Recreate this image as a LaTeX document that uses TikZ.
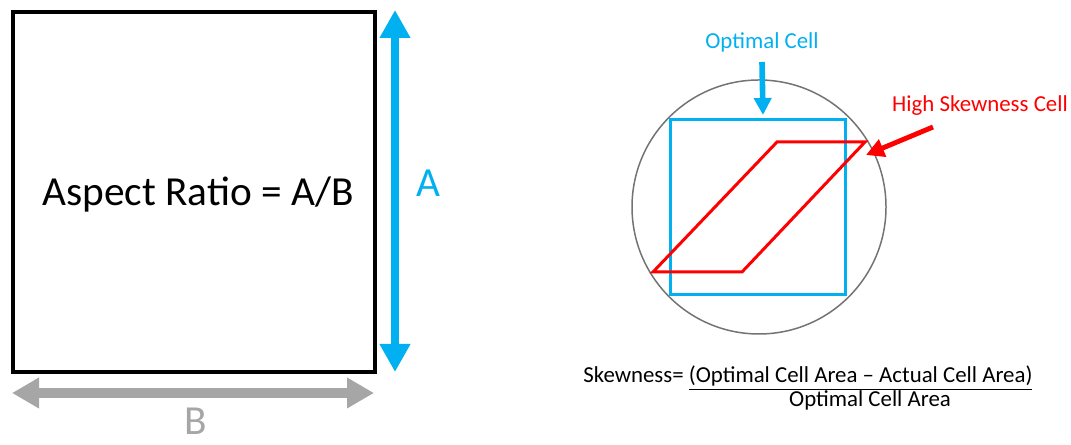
\documentclass[tikz,border=0pt]{standalone}
\usepackage{fontspec}
\setmainfont{Carlito}
\usetikzlibrary{arrows.meta}
\definecolor{celeste}{HTML}{00B0F0}
\definecolor{gris}{HTML}{A6A6A6}
\definecolor{rojo}{HTML}{FF0000}
\begin{document}
\begin{tikzpicture}
                \useasboundingbox (0,0) rectangle (21.42,8.9);
                % Relacion de aspecto
                \draw[line width=2.3pt] (0.26,1.46) rectangle (7.5,8.66);
                \node (ratio) at (3.96,5.02) {\fontsize{23.5}{28}\selectfont Aspect Ratio = A/B};
                \coordinate (atop) at (7.9,8.7);
                \coordinate (abot) at (7.9,1.46);
                \draw[celeste, line width=5.1pt, {Triangle[length=0.56cm, width=0.58cm]}-{Triangle[length=0.56cm, width=0.58cm]}] (atop) -- (abot);
                \node[celeste] (ladoA) at (8.56,5.24) {\fontsize{23.5}{28}\selectfont A};
                \coordinate (bizq) at (0.24,1.04);
                \coordinate (bder) at (7.48,1.04);
                \draw[gris, line width=5.7pt, {Triangle[length=0.54cm, width=0.58cm]}-{Triangle[length=0.54cm, width=0.58cm]}] (bizq) -- (bder);
                \node[gris, anchor=base, inner sep=0pt] (ladoB) at (3.92,0.2) {\fontsize{23.5}{28}\selectfont B};

                % Celdas
                \draw[black!55, line width=0.85pt] (15.18,4.76) circle (2.54);
                \draw[celeste, line width=1.7pt] (13.4,3.0) rectangle (16.9,6.5);
                \draw[rojo, line width=1.7pt, line join=miter] (13.06,3.46) -- (14.84,3.46) -- (17.3,6.06) -- (15.54,6.06) -- cycle;
                \node[celeste] (optima) at (15.24,8.06) {\fontsize{13}{16}\selectfont Optimal Cell};
                \coordinate (optpunta) at (15.26,6.6);
                \draw[celeste, line width=3.2pt, -{Triangle[length=0.34cm, width=0.34cm]}] (optima.south |- 0,7.66) -- (optpunta);
                \node[rojo] (sesgada) at (19.6,6.78) {\fontsize{13}{16}\selectfont High Skewness Cell};
                \coordinate (rcola) at (18.66,6.36);
                \coordinate (rpunta) at (17.32,5.8);
                \draw[rojo, line width=2.8pt, -{Triangle[length=0.36cm, width=0.36cm]}] (rcola) -- (rpunta);

                % Formula
                \node[anchor=base west, inner sep=0pt] (formula) at (11.66,1.24) {\fontsize{13}{16}\selectfont Skewness= \underline{(Optimal Cell Area – Actual Cell Area)}};
                \node[anchor=base, inner sep=0pt] (denom) at (17.4,0.76) {\fontsize{13}{16}\selectfont Optimal Cell Area};
            \end{tikzpicture}
\end{document}
